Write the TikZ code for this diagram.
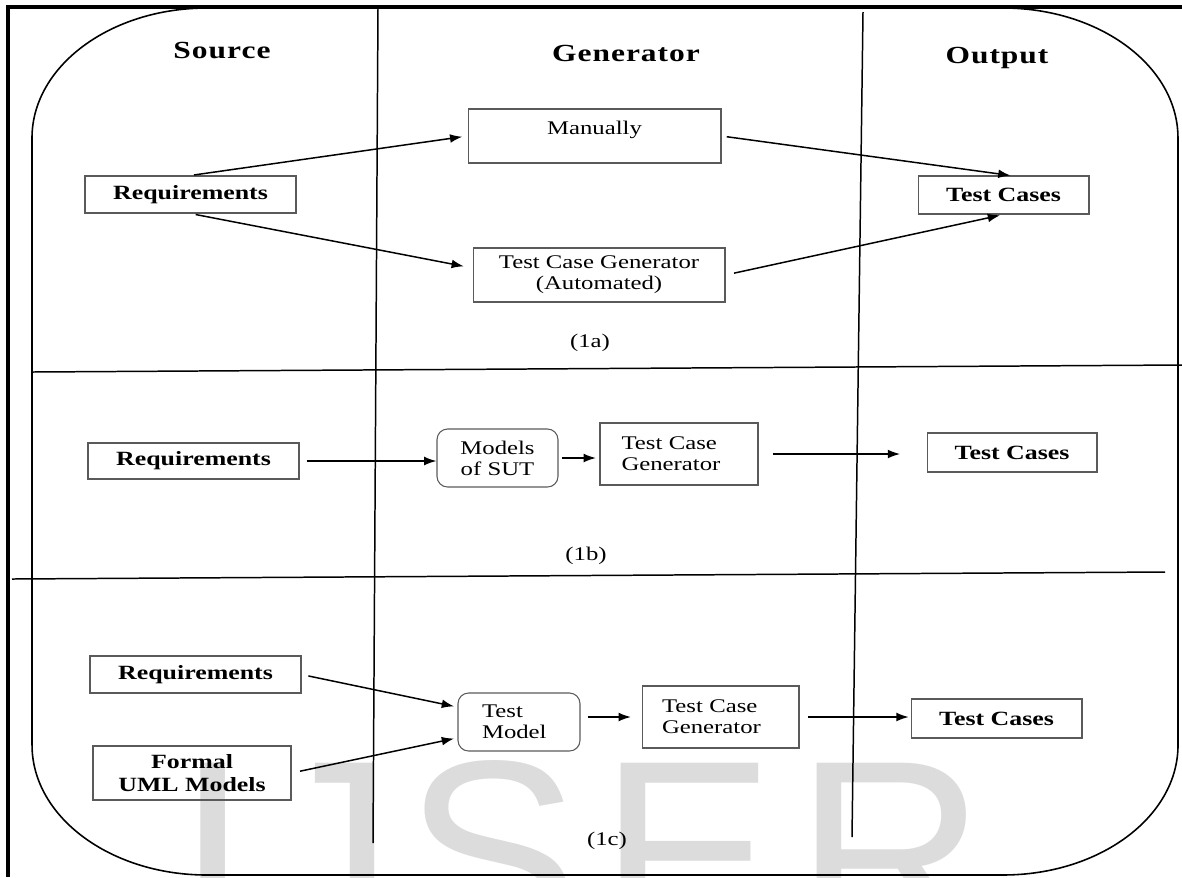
\documentclass[tikz,border=0pt]{standalone}
\usepackage{fontspec}
\setmainfont[FakeStretch=1.28]{Liberation Serif}
\newfontfamily\headfont[FakeStretch=1.28, LetterSpace=4]{Liberation Serif}
\newfontfamily\markfont{Liberation Sans}
\usetikzlibrary{arrows.meta, calc}
\definecolor{boxline}{RGB}{90, 90, 90}
\definecolor{markgray}{RGB}{220, 220, 220}

\begin{document}
\begin{tikzpicture}[x=0.02cm, y=-0.02cm,
    box/.style={draw=boxline, line width=0.6pt, inner sep=2pt, align=center, font=\fontsize{11}{12}\selectfont},
    keybox/.style={box, font=\fontsize{11.5}{13}\selectfont\bfseries},
    roundbox/.style={box, rounded corners=6pt},
    colhead/.style={anchor=base, font=\headfont\fontsize{14}{16}\selectfont\bfseries},
    subcap/.style={font=\fontsize{11}{12}\selectfont},
    wmark/.style={anchor=base, inner sep=0pt, text=markgray, font=\markfont\fontsize{150}{150}\selectfont},
    arrow/.style={-{Latex[length=7pt, width=5pt]}, line width=0.85pt},
    divider/.style={line width=0.85pt},
    roundframe/.style={line width=0.9pt},
    framerule/.style={line width=1.8pt}
]
    \useasboundingbox (0,0) rectangle (1182,877);

    % Watermark behind everything
    \begin{scope}
        \clip (0,0) rectangle (1182,877);
        \node[wmark] (wmI) at (213,944) {I};
        \node[wmark] (wmJ) at (328,944) {J};
        \node[wmark] (wmS) at (492,944) {S};
        \node[wmark] (wmE) at (687,944) {E};
        \node[wmark] (wmR) at (891,944) {R};
    \end{scope}

    % Page frame and rounded outline
    \draw[framerule] (8,877) -- (8,7) -- (1182,7);
    \draw[roundframe] (32,138) arc[start angle=180, end angle=90, x radius=3.5cm, y radius=2.6cm]
        -- (1003,8) arc[start angle=90, end angle=0, x radius=3.5cm, y radius=2.6cm]
        -- (1178,745) arc[start angle=0, end angle=-90, x radius=3.5cm, y radius=2.6cm]
        -- (207,875) arc[start angle=-90, end angle=-180, x radius=3.5cm, y radius=2.6cm]
        -- cycle;

    % Column and row dividers
    \draw[divider] (378,8) -- (373,843);
    \draw[divider] (863,12) -- (852,837);
    \draw[divider] (32,372) -- (1182,365);
    \draw[divider] (12,579) -- (1165,572);

    % Column headings
    \node[colhead] (hdrsource) at (222,58) {Source};
    \node[colhead] (hdrgen) at (626,61) {Generator};
    \node[colhead] (hdrout) at (997,63) {Output};

    % (1a) manual or automated generation
    \node[keybox, minimum width=4.22cm, minimum height=0.74cm] (req1a) at (190.5,194.5) {Requirements};
    \node[box, minimum width=5.06cm, minimum height=1.08cm, inner ysep=0pt, text height=14.6pt, text depth=16pt] (manual) at (594.5,136) {Manually};
    \node[box, minimum width=5.04cm, minimum height=1.08cm] (tcgauto) at (599,275) {Test Case Generator\\(Automated)};
    \node[keybox, minimum width=3.42cm, minimum height=0.76cm] (tc1a) at (1003.5,195) {Test Cases};
    \node[subcap] (cap1a) at (590,343) {(1a)};

    \draw[arrow, shorten <=2pt, shorten >=3pt] (req1a.north) -- (manual.west);
    \draw[arrow, shorten <=3pt, shorten >=5pt] (req1a.south) -- ([yshift=4pt]tcgauto.west);
    \draw[arrow, shorten <=3pt] (manual.east) -- ([xshift=4pt]tc1a.north);
    \draw[arrow, shorten <=5pt, shorten >=2pt] (tcgauto.east) -- (tc1a.south);

    % (1b) model based generation
    \node[keybox, minimum width=4.22cm, minimum height=0.72cm] (req1b) at (193.5,461) {Requirements};
    \node[roundbox, minimum width=2.42cm, minimum height=1.16cm] (sut) at (497.5,458) {Models\\of SUT};
    \node[box, minimum height=1.24cm, text width=2.3cm, inner xsep=0.43cm, align=left] (tcg1b) at (679,454) {Test Case\\Generator};
    \node[keybox, minimum width=3.4cm, minimum height=0.78cm] (tc1b) at (1012,452.5) {Test Cases};
    \node[subcap] (cap1b) at (586,556) {(1b)};

    \draw[arrow, shorten <=4pt] (req1b.east) -- (req1b.east -| sut.west);
    \draw[arrow, shorten <=2pt, shorten >=2pt] (sut.east) -- (sut.east -| tcg1b.west);
    \draw[arrow, shorten <=8pt, shorten >=15pt] (tcg1b.east) -- (tcg1b.east -| tc1b.west);

    % (1c) test model from requirements and UML
    \node[keybox, minimum width=4.22cm, minimum height=0.74cm] (req1c) at (195.5,674.5) {Requirements};
    \node[keybox, minimum width=3.96cm, minimum height=1.08cm] (uml) at (192,773) {Formal\\UML Models};
    \node[roundbox, minimum height=1.16cm, text width=1.48cm, inner xsep=0.48cm, align=left] (testmodel) at (519,722) {Test\\Model};
    \node[box, minimum height=1.24cm, text width=2.34cm, inner xsep=0.4cm, align=left] (tcg1c) at (720.5,717) {Test Case\\Generator};
    \node[keybox, minimum width=3.42cm, minimum height=0.78cm] (tc1c) at (996.5,718.5) {Test Cases};
    \node[subcap] (cap1c) at (607,841) {(1c)};

    \draw[arrow, shorten <=4pt, shorten >=2pt] (req1c.east) -- ([yshift=8.5pt]testmodel.west);
    \draw[arrow, shorten <=5pt, shorten >=2pt] (uml.east) -- ([yshift=-9pt]testmodel.west);
    \draw[arrow, shorten <=4pt, shorten >=6pt] (testmodel.east |- tcg1c.west) -- (tcg1c.west);
    \draw[arrow, shorten <=5pt, shorten >=1pt] (tcg1c.east) -- (tcg1c.east -| tc1c.west);
\end{tikzpicture}
\end{document}
